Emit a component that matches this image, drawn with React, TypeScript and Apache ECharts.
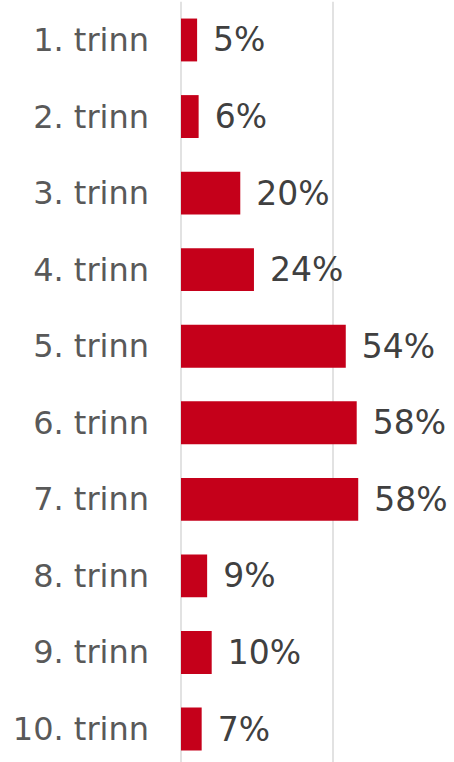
import React, { useEffect, useRef } from "react";
import * as echarts from "echarts";

const categories = ["1. trinn", "2. trinn", "3. trinn", "4. trinn", "5. trinn", "6. trinn", "7. trinn", "8. trinn", "9. trinn", "10. trinn"];
const values = [5.3, 5.8, 19.5, 24.0, 54.2, 57.8, 58.3, 8.6, 10.1, 6.8];

export default function App() {
  const ref = useRef<HTMLDivElement>(null);
  useEffect(() => {
    if (!ref.current) return;
    const chart = echarts.init(ref.current, null, { renderer: "svg" });
    chart.setOption({
      animation: false,
      grid: { left: 181, top: 1.7, width: 304, height: 765.6, containLabel: false, outerBoundsMode: "none" },
      xAxis: {
        type: "value",
        min: 0,
        max: 100,
        interval: 50,
        axisLabel: { show: false },
        axisLine: { show: false },
        axisTick: { show: false },
        splitLine: { show: true, lineStyle: { color: "#d9d9d9", width: 1.5 } },
      },
      yAxis: {
        type: "category",
        inverse: true,
        data: categories,
        axisLine: { show: false },
        axisTick: { show: false },
        axisLabel: {
          margin: 32,
          fontFamily: "DejaVu Sans",
          fontSize: 32,
          color: "#595959",
        },
      },
      series: [
        {
          type: "bar",
          data: values,
          barCategoryGap: "44%",
          itemStyle: { color: "#C5001A" },
          label: {
            show: true,
            position: "right",
            distance: 16,
            fontFamily: "DejaVu Sans",
            fontSize: 33,
            color: "#404040",
            formatter: (p: any) => Math.round(p.value) + "%",
          },
        },
      ],
    });
    return () => chart.dispose();
  }, []);
  return <div ref={ref} style={{ width: 454, height: 762, position: "absolute", left: 0, top: 0 }} />;
}
